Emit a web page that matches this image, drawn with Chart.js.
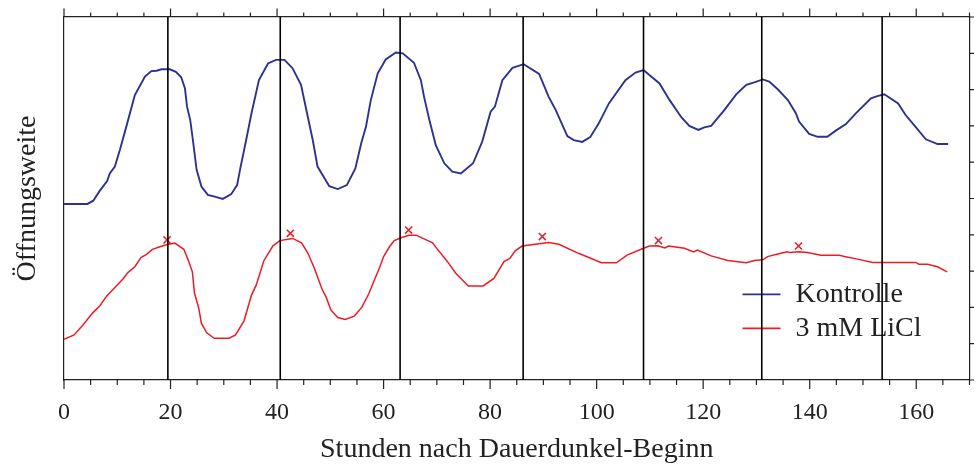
<!DOCTYPE html>
<html><head><meta charset="utf-8">
<script src="https://cdn.jsdelivr.net/npm/chart.js@4.4.0/dist/chart.umd.min.js"></script>
<style>html,body{margin:0;padding:0;background:#fff;}#wrap{width:976px;height:469px;}</style>
</head><body><div id="wrap"><canvas id="c" width="976" height="469"></canvas></div>
<script>
// ---- data ----
const seriesNames = ['Kontrolle', '3 mM LiCl'];
const kontrolleX = [0,4.4,5.5,6.7,8.1,8.6,9.55,10.5,11.7,13.3,15.2,16.4,17.4,18.3,19.85,21,22,22.7,23.1,23.7,24.2,24.9,25.8,27,28.3,29.8,31.4,32.5,33.1,34.2,35.2,36.6,38.3,39.8,41.4,42.9,44.5,45.5,46.7,47.6,49.8,51.4,53.1,54.7,55.8,56.7,57.6,58.9,60.4,62.3,63.6,65.7,67,67.6,68.6,69.8,71.4,72.9,74.5,76.8,78.5,80.1,80.9,82.3,84.2,86.3,89.2,91,92.3,94.5,95.7,97.3,98.8,100.4,102.3,105.4,107.3,108.8,109.9,111.8,113.7,115.9,117.4,119.1,120.2,121.5,124,126.2,128.1,129.6,131.2,132.4,134,135.9,137.4,138,139.9,141.5,143.3,144.9,146.8,148.7,151.5,152.7,154,156.6,158,159.6,161.8,164,166];
const kontrolleY = [4.85,4.85,4.94,5.21,5.48,5.69,5.88,6.34,6.98,7.85,8.36,8.51,8.52,8.56,8.56,8.49,8.34,8.04,7.53,7.16,6.61,5.79,5.33,5.10,5.05,4.99,5.12,5.37,5.83,6.61,7.35,8.26,8.72,8.82,8.82,8.59,8.13,7.44,6.61,5.88,5.34,5.26,5.37,5.83,6.52,6.98,7.71,8.45,8.83,9.02,9.00,8.74,8.26,7.80,7.16,6.47,5.97,5.74,5.69,5.97,6.56,7.39,7.53,8.26,8.60,8.70,8.43,7.80,7.44,6.72,6.61,6.56,6.69,7.07,7.62,8.26,8.47,8.54,8.40,8.17,7.71,7.24,7.00,6.89,6.96,7.00,7.44,7.87,8.13,8.20,8.28,8.22,8.01,7.71,7.35,7.12,6.78,6.70,6.70,6.87,7.05,7.35,7.76,7.82,7.87,7.62,7.30,7.02,6.63,6.50,6.50];
const liclX = [0,1.9,3.6,5.4,6.7,8.0,9.55,11.1,12.0,13.3,14.5,15.5,16.6,18.0,19.5,20.8,22.5,23.3,24.1,24.5,25.3,25.8,26.8,28.2,31.0,32.2,33.8,35.2,36.1,37.5,39.2,40.5,42.9,44.6,45.8,47.0,48.45,49.2,50.1,51.4,52.8,54.5,55.9,57.2,58.25,59.2,60.0,61.1,62.0,63.25,64.8,66.1,69.2,69.8,72.0,73.55,75.9,78.7,80.7,82.6,83.7,84.7,86.0,88.5,91.0,92.9,96.6,100.9,103.7,105.7,108.8,109.9,111.5,112.8,113.5,116.5,118.2,118.9,121.5,124.6,128.1,129.6,131.2,132.1,134.0,135.8,136.2,138.0,139.6,142.1,145.5,146.5,149.0,151.8,154.0,159.9,160.5,162.1,164.0,165.8];
const liclY = [1.12,1.24,1.52,1.85,2.04,2.31,2.55,2.79,2.96,3.12,3.38,3.46,3.60,3.67,3.74,3.77,3.60,3.31,2.98,2.39,1.98,1.56,1.30,1.15,1.15,1.24,1.63,2.34,2.62,3.28,3.69,3.84,3.90,3.78,3.49,3.08,2.50,2.29,1.93,1.72,1.67,1.76,2.00,2.37,2.75,3.08,3.40,3.67,3.84,3.92,3.99,3.99,3.78,3.66,3.26,2.94,2.59,2.59,2.80,3.26,3.35,3.56,3.69,3.74,3.79,3.74,3.49,3.23,3.23,3.44,3.63,3.69,3.70,3.64,3.69,3.63,3.53,3.58,3.42,3.29,3.23,3.29,3.31,3.40,3.47,3.53,3.51,3.53,3.51,3.44,3.44,3.40,3.33,3.24,3.24,3.24,3.19,3.19,3.12,2.98];
const peakX = [19.35,42.5,64.7,89.8,111.6,137.9];
const peakY = [3.86,4.04,4.13,3.95,3.84,3.69];
const referenceLineX = [19.5,40.6,63.1,86.2,108.8,131.0,153.6];
const xLabelValues = [0,20,40,60,80,100,120,140,160];
const xTitle = 'Stunden nach Dauerdunkel-Beginn';
const yTitle = 'Öffnungsweite';

// ---- styles ----
const BLUE = '#2e3192', RED = '#ed1c24', INK = '#222222';
const FONT = '"Liberation Serif", "Times New Roman", serif';

const pairs = (xs, ys) => xs.map((x, i) => ({x: x, y: ys[i]}));

const datasets = [];
referenceLineX.forEach(x => datasets.push({
  data: [{x: x, y: 0}, {x: x, y: 10}],
  borderColor: '#000', borderWidth: 1.6, pointRadius: 0, order: 0
}));
datasets.push({label: seriesNames[0], inLegend: true, data: pairs(kontrolleX, kontrolleY),
  borderColor: BLUE, borderWidth: 1.9, pointRadius: 0, tension: 0, order: 2});
datasets.push({label: seriesNames[1], inLegend: true, data: pairs(liclX, liclY),
  borderColor: RED, borderWidth: 1.5, pointRadius: 0, tension: 0, order: 1});
datasets.push({data: pairs(peakX, peakY), showLine: false, pointStyle: 'crossRot',
  pointRadius: 5, borderColor: RED, backgroundColor: RED, pointBorderWidth: 1.5, order: 1});

const legendPlugin = {
  id: 'boxLegend',
  beforeDatasetsDraw(chart) {
    const ctx = chart.ctx, a = chart.chartArea;
    const items = chart.data.datasets.filter(d => d.inLegend);
    ctx.save();
    ctx.font = '28px ' + FONT;
    ctx.textBaseline = 'alphabetic';
    items.forEach((d, i) => {
      const y = a.bottom - 85.7 + i * 34;
      ctx.strokeStyle = d.borderColor; ctx.lineWidth = 1.8;
      ctx.beginPath(); ctx.moveTo(a.right - 227, y); ctx.lineTo(a.right - 189, y); ctx.stroke();
      ctx.fillStyle = INK;
      ctx.fillText(d.label, a.right - 174, y + 8);
    });
    ctx.restore();
  }
};

const tickPlugin = {
  id: 'outerTicks',
  afterDraw(chart) {
    const ctx = chart.ctx, a = chart.chartArea;
    const sx = chart.scales.x, sy2 = chart.scales.y2;
    ctx.save();
    ctx.strokeStyle = INK; ctx.lineWidth = 1.2;
    ctx.beginPath();
    sx.ticks.forEach(t => {
      const p = sx.getPixelForValue(t.value);
      const major = xLabelValues.includes(t.value);
      ctx.moveTo(p, a.bottom); ctx.lineTo(p, a.bottom + (major ? 9 : 5));
      ctx.moveTo(p, a.top); ctx.lineTo(p, a.top - (major ? 8.5 : 4.5));
    });
    sy2.ticks.forEach(t => {
      const p = sy2.getPixelForValue(t.value);
      ctx.moveTo(a.right, p); ctx.lineTo(a.right + 4.5, p);
    });
    ctx.stroke();
    ctx.restore();
  }
};

const noSidePad = s => { s.paddingLeft = 0; s.paddingRight = 0; };

new Chart(document.getElementById('c'), {
  type: 'line',
  data: {datasets: datasets},
  plugins: [legendPlugin, tickPlugin],
  options: {
    responsive: false, animation: false, devicePixelRatio: 1,
    layout: {padding: 0},
    plugins: {legend: {display: false}, tooltip: {enabled: false}},
    scales: {
      x: {
        type: 'linear', position: 'bottom', min: 0, max: 170,
        grid: {display: false, drawTicks: false},
        border: {display: true, color: INK, width: 1.2},
        ticks: {stepSize: 5, autoSkip: false, maxRotation: 0, padding: 18.6,
          color: INK, font: {family: FONT, size: 24},
          callback: v => xLabelValues.includes(v) ? String(v) : ''},
        title: {display: true, text: xTitle, color: INK, font: {family: FONT, size: 28},
          padding: {top: 0, bottom: 3}},
        afterFit: s => { s.height = 89; noSidePad(s); }
      },
      x2: {
        type: 'linear', position: 'top', min: 0, max: 170,
        grid: {display: false, drawTicks: false},
        border: {display: true, color: INK, width: 1.2},
        ticks: {display: false, stepSize: 5},
        afterFit: s => { s.height = 17; noSidePad(s); }
      },
      y: {
        type: 'linear', position: 'left', min: 0, max: 10,
        grid: {display: false, drawTicks: false},
        border: {display: true, color: INK, width: 1.2},
        ticks: {display: false, stepSize: 1},
        title: {display: true, text: yTitle, color: INK, font: {family: FONT, size: 28},
          padding: {top: 11, bottom: 0}},
        afterFit: s => { s.width = 64; }
      },
      y2: {
        type: 'linear', position: 'right', min: 0, max: 10,
        grid: {display: false, drawTicks: false},
        border: {display: true, color: INK, width: 1.2},
        ticks: {display: false, stepSize: 1},
        afterFit: s => { s.width = 4; }
      }
    }
  }
});
</script>
</body></html>
